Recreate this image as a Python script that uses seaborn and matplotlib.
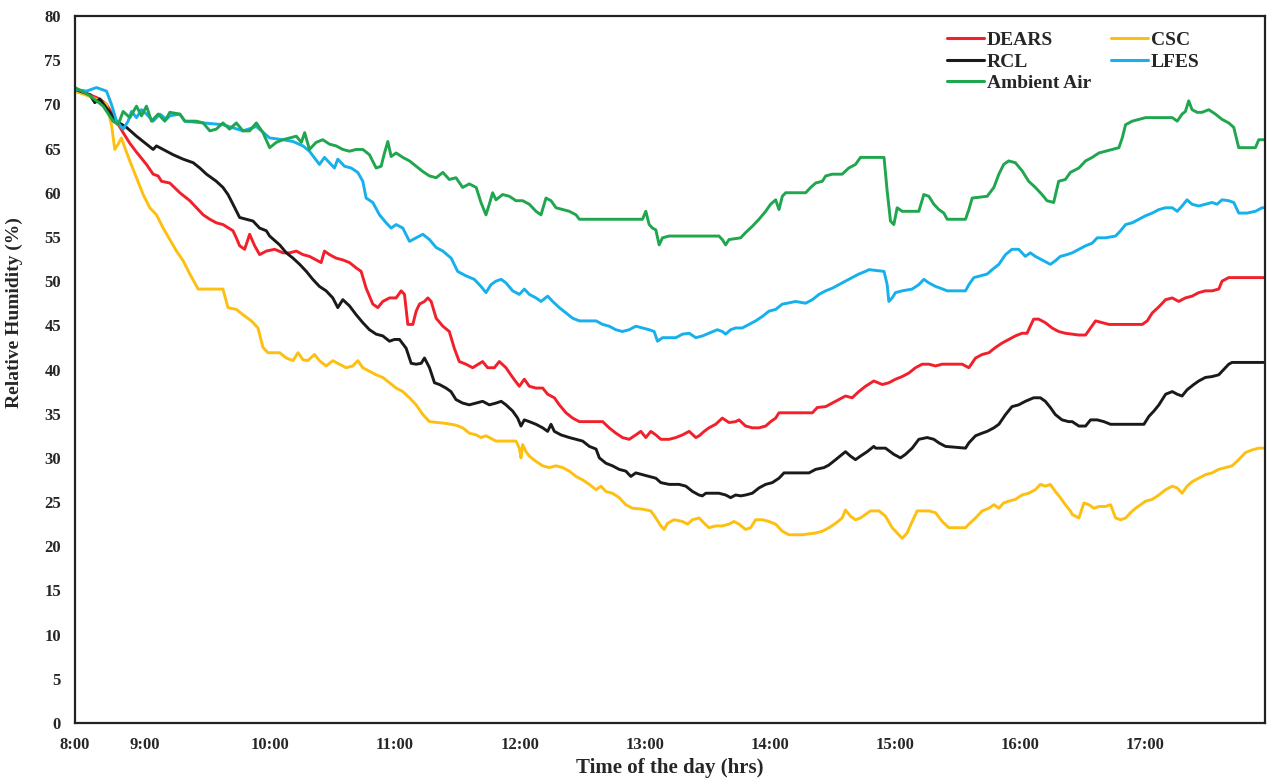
import numpy as np
import pandas as pd
import seaborn as sns
import matplotlib
matplotlib.use("Agg")
import matplotlib.pyplot as plt
from matplotlib.lines import Line2D

# Relative humidity readings (minute of the day after 8:00, RH %)
dears = [
    (26.5, 71.5), (33.6, 71.1), (38.4, 70.6), (41.6, 70.0), (46.4, 68.1), (49.6, 66.8), (52.8, 65.6),
    (56.0, 64.6), (60.8, 63.2), (64.0, 62.1), (66.4, 61.9), (68.0, 61.3), (72.0, 61.1), (76.8, 60.0),
    (81.6, 59.1), (88.0, 57.5), (91.2, 57.0), (94.3, 56.6), (97.5, 56.4), (102.3, 55.7), (103.9, 54.9),
    (105.5, 54.0), (107.9, 53.6), (110.3, 55.3), (112.7, 54.0), (115.1, 53.0), (118.3, 53.4), (122.3, 53.6),
    (126.3, 53.2), (129.5, 53.2), (132.7, 53.4), (135.9, 53.0), (139.0, 52.8), (142.2, 52.4), (144.6, 52.1),
    (146.2, 53.4), (148.6, 53.0), (151.8, 52.6), (155.0, 52.4), (158.2, 52.1), (161.4, 51.5), (163.8, 51.1),
    (166.2, 49.2), (169.4, 47.4), (171.8, 47.0), (174.2, 47.7), (177.4, 48.1), (180.6, 48.1), (183.0, 48.9),
    (184.6, 48.5), (186.2, 45.1), (188.6, 45.1), (190.2, 46.6), (191.8, 47.4), (194.2, 47.7), (195.8, 48.1),
    (197.4, 47.7), (199.8, 45.8), (203.0, 44.9), (206.1, 44.3), (208.5, 42.4), (210.9, 40.9), (214.1, 40.6),
    (217.3, 40.2), (222.1, 40.9), (224.5, 40.2), (227.7, 40.2), (230.1, 40.9), (233.3, 40.2), (236.5, 39.1),
    (239.7, 38.1), (242.1, 38.9), (244.5, 38.1), (247.7, 37.9), (250.9, 37.9), (253.3, 37.2), (256.5, 36.8),
    (258.9, 36.0), (262.1, 35.1), (265.3, 34.5), (268.5, 34.1), (279.7, 34.1), (282.8, 33.4), (286.0, 32.8),
    (289.2, 32.3), (292.4, 32.1), (295.6, 32.6), (298.0, 33.0), (300.4, 32.3), (302.8, 33.0), (305.2, 32.6),
    (307.6, 32.1), (311.6, 32.1), (314.8, 32.3), (318.0, 32.6), (321.2, 33.0), (324.4, 32.3), (326.0, 32.5),
    (328.4, 33.0), (330.7, 33.4), (333.9, 33.8), (337.1, 34.5), (340.3, 34.0), (343.5, 34.1), (345.1, 34.3),
    (348.3, 33.6), (351.5, 33.4), (354.7, 33.4), (357.9, 33.6), (360.3, 34.1), (362.7, 34.5), (364.3, 35.1),
    (380.3, 35.1), (382.7, 35.7), (386.7, 35.8), (389.9, 36.2), (393.0, 36.6), (396.2, 37.0), (399.4, 36.8),
    (402.6, 37.5), (405.8, 38.1), (409.8, 38.7), (413.9, 38.3), (417.0, 38.5), (420.2, 38.9), (423.4, 39.2),
    (426.6, 39.6), (429.8, 40.2), (433.0, 40.6), (436.2, 40.6), (439.4, 40.4), (442.6, 40.6), (452.2, 40.6),
    (455.4, 40.2), (458.6, 41.3), (461.8, 41.7), (465.0, 41.9), (468.2, 42.5), (471.4, 43.0), (474.5, 43.4),
    (477.7, 43.8), (480.9, 44.1), (483.3, 44.1), (484.9, 44.9), (486.5, 45.7), (488.9, 45.7), (492.1, 45.3),
    (495.3, 44.7), (498.5, 44.3), (501.7, 44.1), (508.2, 43.9), (511.4, 43.9), (513.8, 44.7), (516.2, 45.5),
    (519.4, 45.3), (522.6, 45.1), (538.6, 45.1), (541.0, 45.5), (543.4, 46.4), (546.6, 47.1), (549.8, 47.9),
    (553.0, 48.1), (556.1, 47.7), (559.3, 48.1), (562.5, 48.3), (565.7, 48.7), (568.9, 48.9), (572.1, 48.9),
    (575.3, 49.1), (576.9, 50.0), (580.1, 50.4), (597.5, 50.4),
]

csc = [
    (26.5, 71.5), (33.6, 70.9), (38.4, 70.4), (41.6, 70.0), (44.0, 67.7), (45.6, 64.9), (47.2, 65.5),
    (48.8, 66.2), (50.4, 65.1), (52.8, 63.6), (56.0, 61.7), (59.2, 59.8), (62.4, 58.3), (65.6, 57.5),
    (68.8, 56.0), (72.0, 54.7), (75.2, 53.4), (78.4, 52.3), (81.6, 50.8), (85.6, 49.1), (97.5, 49.1),
    (99.9, 47.0), (103.9, 46.8), (107.1, 46.2), (111.1, 45.5), (114.3, 44.7), (116.7, 42.5), (119.1, 41.9),
    (124.7, 41.9), (127.9, 41.3), (131.1, 41.0), (133.5, 41.9), (135.9, 41.1), (138.2, 41.0), (141.4, 41.7),
    (143.8, 41.0), (147.0, 40.4), (150.2, 41.0), (153.4, 40.6), (156.6, 40.2), (159.8, 40.4), (162.2, 41.0),
    (164.6, 40.2), (167.8, 39.8), (171.0, 39.4), (174.2, 39.1), (177.4, 38.5), (180.6, 37.9), (183.8, 37.5),
    (187.0, 36.8), (190.2, 36.0), (193.4, 34.9), (196.6, 34.1), (204.5, 33.9), (209.3, 33.7), (212.5, 33.4),
    (215.7, 32.8), (219.0, 32.6), (221.3, 32.3), (223.7, 32.5), (228.5, 31.9), (238.1, 31.9), (239.7, 31.1),
    (240.5, 30.0), (241.3, 31.5), (242.9, 30.7), (244.5, 30.2), (247.7, 29.6), (250.9, 29.1), (254.1, 28.9),
    (257.3, 29.1), (260.5, 28.9), (263.7, 28.5), (266.9, 27.9), (270.1, 27.5), (273.3, 27.0), (276.5, 26.4),
    (278.9, 26.8), (281.2, 26.2), (284.4, 26.0), (287.6, 25.5), (290.8, 24.7), (294.0, 24.3), (298.8, 24.2),
    (302.8, 24.0), (305.2, 23.2), (307.6, 22.3), (309.2, 21.9), (310.8, 22.6), (314.0, 23.0), (318.0, 22.8),
    (320.4, 22.5), (322.8, 23.0), (326.0, 23.2), (328.4, 22.6), (330.7, 22.1), (333.9, 22.3), (337.1, 22.3),
    (340.3, 22.5), (342.7, 22.8), (345.1, 22.5), (348.3, 21.9), (350.7, 22.1), (353.1, 23.0), (356.3, 23.0),
    (359.5, 22.8), (362.7, 22.5), (365.9, 21.7), (369.1, 21.3), (375.5, 21.3), (381.9, 21.5), (385.1, 21.7),
    (388.3, 22.1), (391.5, 22.6), (394.6, 23.2), (396.2, 24.1), (398.6, 23.4), (401.0, 23.0), (403.4, 23.2),
    (405.8, 23.6), (408.2, 24.0), (412.3, 24.0), (415.4, 23.4), (418.6, 22.1), (421.8, 21.3), (423.4, 20.9),
    (425.8, 21.5), (428.2, 22.8), (430.6, 24.0), (436.2, 24.0), (439.4, 23.8), (442.6, 22.8), (445.8, 22.1),
    (453.8, 22.1), (455.4, 22.5), (458.6, 23.2), (461.8, 24.0), (465.0, 24.3), (467.4, 24.7), (469.8, 24.3),
    (472.1, 24.9), (474.5, 25.1), (477.7, 25.3), (480.9, 25.8), (484.1, 26.0), (487.3, 26.4), (489.7, 27.0),
    (492.1, 26.8), (494.5, 27.0), (496.9, 26.2), (499.3, 25.5), (501.7, 24.7), (504.1, 24.0), (505.0, 23.6),
    (508.2, 23.2), (510.6, 24.9), (513.0, 24.7), (515.4, 24.3), (517.8, 24.5), (521.0, 24.5), (523.4, 24.7),
    (525.8, 23.2), (528.2, 23.0), (530.6, 23.2), (533.0, 23.8), (535.4, 24.3), (537.8, 24.7), (540.2, 25.1),
    (543.4, 25.3), (546.6, 25.8), (549.8, 26.4), (553.0, 26.8), (555.4, 26.6), (557.7, 26.0), (560.1, 26.8),
    (562.5, 27.3), (565.7, 27.7), (568.9, 28.1), (572.1, 28.3), (575.3, 28.7), (578.5, 28.9), (581.7, 29.1),
    (584.9, 29.8), (588.1, 30.6), (591.3, 30.9), (594.5, 31.1), (597.5, 31.1),
]

rcl = [
    (26.5, 71.7), (33.6, 71.1), (36.0, 70.2), (38.4, 70.6), (41.6, 69.6), (46.4, 68.1), (51.2, 67.4),
    (56.0, 66.4), (60.8, 65.5), (64.0, 64.9), (65.6, 65.3), (68.8, 64.9), (73.6, 64.3), (78.4, 63.8),
    (83.2, 63.4), (86.4, 62.8), (89.6, 62.1), (94.3, 61.3), (97.5, 60.6), (99.9, 59.8), (102.3, 58.7),
    (105.5, 57.2), (108.7, 57.0), (111.9, 56.8), (115.1, 56.0), (118.3, 55.7), (119.9, 55.1), (124.7, 54.1),
    (127.9, 53.2), (131.1, 52.6), (134.3, 51.9), (137.5, 51.1), (140.6, 50.2), (143.8, 49.4), (147.0, 48.9),
    (150.2, 48.1), (152.6, 47.0), (155.0, 47.9), (158.2, 47.2), (161.4, 46.2), (164.6, 45.3), (167.8, 44.5),
    (171.0, 44.0), (174.2, 43.8), (177.4, 43.2), (179.8, 43.4), (182.2, 43.4), (185.4, 42.4), (187.8, 40.7),
    (190.2, 40.6), (192.6, 40.7), (194.2, 41.3), (196.6, 40.2), (199.0, 38.5), (201.4, 38.3), (204.5, 37.9),
    (206.9, 37.5), (209.3, 36.6), (212.5, 36.2), (215.7, 36.0), (219.0, 36.2), (222.1, 36.4), (225.3, 36.0),
    (228.5, 36.2), (231.0, 36.4), (233.3, 36.0), (236.5, 35.3), (238.9, 34.5), (240.5, 33.6), (242.1, 34.3),
    (244.5, 34.1), (247.7, 33.8), (250.9, 33.4), (253.3, 33.0), (254.9, 33.8), (256.5, 33.0), (259.7, 32.6),
    (263.7, 32.3), (266.9, 32.1), (270.1, 31.9), (273.3, 31.3), (276.5, 31.0), (278.1, 30.0), (281.2, 29.4),
    (284.4, 29.1), (287.6, 28.7), (290.8, 28.5), (293.2, 27.9), (295.6, 28.3), (298.8, 28.1), (302.0, 27.9),
    (305.2, 27.7), (307.6, 27.2), (311.6, 27.0), (316.4, 27.0), (319.6, 26.8), (322.8, 26.2), (325.9, 25.8),
    (327.5, 25.7), (329.2, 26.0), (335.5, 26.0), (338.7, 25.8), (341.1, 25.5), (343.5, 25.8), (345.9, 25.7),
    (348.3, 25.8), (351.5, 26.0), (354.7, 26.6), (357.9, 27.0), (361.1, 27.2), (364.3, 27.7), (366.7, 28.3),
    (378.7, 28.3), (381.9, 28.7), (385.9, 28.9), (388.3, 29.2), (391.5, 29.8), (394.6, 30.4), (396.2, 30.7),
    (398.6, 30.2), (401.0, 29.8), (403.4, 30.2), (406.6, 30.7), (409.8, 31.3), (410.7, 31.1), (415.4, 31.1),
    (419.4, 30.4), (422.6, 30.0), (425.0, 30.4), (428.2, 31.1), (431.4, 32.1), (435.4, 32.3), (438.6, 32.1),
    (441.0, 31.7), (444.2, 31.3), (453.8, 31.1), (455.4, 31.7), (458.6, 32.5), (461.8, 32.8), (464.2, 33.0),
    (467.4, 33.4), (469.8, 33.8), (473.0, 34.9), (476.1, 35.8), (479.3, 36.0), (482.5, 36.4), (486.5, 36.8),
    (489.7, 36.8), (492.1, 36.4), (494.5, 35.7), (496.9, 34.9), (500.1, 34.3), (503.3, 34.1), (505.0, 34.1),
    (508.2, 33.6), (511.4, 33.6), (513.8, 34.3), (517.0, 34.3), (520.2, 34.1), (523.4, 33.8), (539.4, 33.8),
    (541.8, 34.7), (544.2, 35.3), (546.6, 36.0), (549.8, 37.2), (553.0, 37.5), (555.4, 37.2), (557.7, 37.0),
    (560.1, 37.7), (563.3, 38.3), (565.7, 38.7), (568.9, 39.1), (572.1, 39.2), (575.3, 39.4), (577.7, 40.0),
    (580.1, 40.6), (581.7, 40.8), (597.5, 40.8),
]

lfes = [
    (26.5, 71.7), (32.0, 71.5), (36.8, 71.9), (41.6, 71.5), (44.0, 70.0), (46.4, 68.1), (49.6, 67.2),
    (52.0, 68.1), (53.6, 69.2), (56.0, 68.5), (58.4, 69.4), (60.8, 68.9), (64.0, 68.1), (67.2, 68.9),
    (70.4, 68.3), (72.0, 68.7), (76.8, 68.9), (79.2, 68.1), (88.0, 67.9), (97.5, 67.7), (107.1, 67.0),
    (113.5, 67.5), (119.9, 66.2), (126.3, 66.0), (131.1, 65.8), (135.9, 65.3), (139.0, 64.7), (143.8, 63.2),
    (146.2, 64.0), (148.6, 63.4), (151.0, 62.8), (152.6, 63.8), (155.8, 63.0), (159.0, 62.8), (162.2, 62.3),
    (164.6, 61.3), (166.2, 59.4), (169.4, 58.9), (172.6, 57.5), (175.8, 56.6), (178.2, 56.0), (180.6, 56.4),
    (183.8, 56.0), (187.0, 54.5), (190.2, 54.9), (193.4, 55.3), (196.6, 54.7), (199.8, 53.8), (203.0, 53.4),
    (207.0, 52.6), (210.1, 51.1), (214.1, 50.6), (218.1, 50.2), (221.3, 49.4), (223.7, 48.7), (226.1, 49.6),
    (228.5, 50.0), (231.0, 50.2), (233.3, 49.8), (236.5, 48.9), (239.7, 48.5), (242.1, 49.1), (244.5, 48.5),
    (247.7, 48.1), (250.1, 47.7), (253.3, 48.3), (255.7, 47.7), (258.9, 47.0), (262.1, 46.4), (265.3, 45.8),
    (268.5, 45.5), (276.5, 45.5), (279.7, 45.1), (282.8, 44.9), (286.0, 44.5), (289.2, 44.3), (292.4, 44.5),
    (295.6, 44.9), (298.8, 44.7), (302.0, 44.5), (304.4, 44.3), (306.0, 43.2), (308.4, 43.6), (314.8, 43.6),
    (318.0, 44.0), (321.2, 44.1), (324.4, 43.6), (327.6, 43.8), (330.7, 44.1), (334.7, 44.5), (337.1, 44.3),
    (338.7, 44.0), (341.1, 44.5), (343.5, 44.7), (346.7, 44.7), (349.9, 45.1), (353.1, 45.5), (356.3, 46.0),
    (359.5, 46.6), (362.7, 46.8), (365.9, 47.4), (368.3, 47.5), (372.3, 47.7), (377.1, 47.5), (380.3, 47.9),
    (383.5, 48.5), (386.7, 48.9), (389.9, 49.2), (393.0, 49.6), (396.2, 50.0), (399.4, 50.4), (402.6, 50.8),
    (405.8, 51.1), (407.5, 51.3), (414.7, 51.1), (416.2, 49.6), (417.0, 47.7), (418.6, 48.1), (420.2, 48.7),
    (423.4, 48.9), (428.2, 49.1), (431.4, 49.6), (433.8, 50.2), (436.2, 49.8), (439.4, 49.4), (441.8, 49.2),
    (445.0, 48.9), (453.8, 48.9), (455.4, 49.6), (457.8, 50.4), (461.0, 50.6), (464.2, 50.8), (466.6, 51.3),
    (469.8, 51.9), (473.0, 53.0), (476.1, 53.6), (479.3, 53.6), (482.5, 52.8), (484.9, 53.2), (487.3, 52.8),
    (490.5, 52.4), (494.5, 51.9), (496.9, 52.3), (499.3, 52.8), (502.5, 53.0), (505.0, 53.2), (508.2, 53.6),
    (511.4, 54.0), (514.6, 54.3), (517.0, 54.9), (521.0, 54.9), (525.8, 55.1), (528.2, 55.7), (530.6, 56.4),
    (533.8, 56.6), (537.0, 57.0), (540.2, 57.4), (543.4, 57.7), (546.6, 58.1), (549.8, 58.3), (553.0, 58.3),
    (555.4, 57.9), (557.7, 58.5), (560.1, 59.2), (562.5, 58.7), (565.7, 58.5), (568.9, 58.7), (572.1, 58.9),
    (574.5, 58.7), (576.9, 59.2), (580.1, 59.1), (582.5, 58.9), (584.9, 57.7), (588.9, 57.7), (592.9, 57.9),
    (596.1, 58.3), (597.5, 58.3),
]

ambient = [
    (26.5, 71.9), (33.6, 71.0), (40.0, 69.8), (44.8, 68.1), (47.2, 67.7), (49.6, 69.2), (52.8, 68.5),
    (56.0, 69.8), (58.4, 68.7), (60.8, 69.8), (63.2, 68.1), (66.4, 68.9), (69.6, 68.1), (72.0, 69.1),
    (76.8, 68.9), (79.2, 68.1), (84.8, 68.1), (88.0, 67.9), (91.2, 67.0), (94.3, 67.2), (97.5, 67.9),
    (100.7, 67.2), (103.9, 67.9), (107.1, 67.0), (110.3, 67.0), (113.5, 67.9), (116.7, 66.8), (119.9, 65.1),
    (123.1, 65.7), (126.3, 66.0), (129.5, 66.2), (132.7, 66.4), (135.1, 65.7), (136.7, 66.8), (139.0, 64.9),
    (142.2, 65.7), (145.4, 66.0), (148.6, 65.5), (151.8, 65.3), (155.0, 64.9), (158.2, 64.7), (161.4, 64.9),
    (164.6, 64.9), (167.8, 64.3), (171.0, 62.8), (173.4, 63.0), (175.0, 64.5), (176.6, 65.8), (178.2, 64.1),
    (180.6, 64.5), (183.8, 64.0), (187.0, 63.6), (190.2, 63.0), (193.4, 62.4), (196.6, 61.9), (199.8, 61.7),
    (203.0, 62.3), (206.1, 61.5), (209.3, 61.7), (212.5, 60.6), (215.7, 61.0), (219.0, 60.6), (221.3, 58.9),
    (223.7, 57.5), (225.3, 58.7), (226.9, 60.0), (228.5, 59.2), (231.7, 59.8), (234.9, 59.6), (238.1, 59.1),
    (241.3, 59.1), (244.5, 58.7), (247.7, 57.9), (250.1, 57.5), (252.5, 59.4), (254.9, 59.1), (257.3, 58.3),
    (260.5, 58.1), (263.7, 57.9), (266.9, 57.5), (268.5, 57.0), (298.8, 57.0), (300.4, 57.9), (302.0, 56.4),
    (303.6, 56.0), (305.2, 55.8), (306.8, 54.1), (308.4, 54.9), (311.6, 55.1), (335.5, 55.1), (337.1, 54.7),
    (338.7, 54.1), (340.3, 54.7), (345.9, 54.9), (348.3, 55.5), (351.5, 56.2), (354.7, 57.0), (357.9, 57.9),
    (360.3, 58.7), (362.7, 59.2), (364.3, 58.1), (365.9, 59.6), (367.5, 60.0), (377.1, 60.0), (379.5, 60.6),
    (381.9, 61.1), (385.1, 61.3), (386.7, 61.9), (389.9, 62.1), (394.6, 62.1), (397.8, 62.8), (401.0, 63.2),
    (403.4, 64.0), (414.7, 64.0), (416.2, 60.2), (417.8, 56.8), (419.4, 56.4), (421.0, 58.3), (423.4, 57.9),
    (431.4, 57.9), (433.8, 59.8), (436.2, 59.6), (438.6, 58.7), (441.0, 58.1), (443.4, 57.7), (445.0, 57.0),
    (453.8, 57.0), (455.4, 58.1), (457.0, 59.4), (464.2, 59.6), (467.4, 60.6), (469.8, 62.1), (472.1, 63.2),
    (474.5, 63.6), (477.7, 63.4), (480.9, 62.5), (484.1, 61.3), (487.3, 60.6), (490.5, 59.8), (492.9, 59.1),
    (496.1, 58.9), (498.5, 61.3), (501.7, 61.5), (504.1, 62.3), (508.2, 62.8), (511.4, 63.6), (514.6, 64.0),
    (517.8, 64.5), (521.0, 64.7), (524.2, 64.9), (527.4, 65.1), (529.0, 66.2), (530.6, 67.7), (533.8, 68.1),
    (537.0, 68.3), (540.2, 68.5), (553.0, 68.5), (555.4, 68.1), (557.7, 68.9), (559.3, 69.2), (560.9, 70.4),
    (562.5, 69.4), (564.9, 69.1), (567.3, 69.1), (570.5, 69.4), (573.7, 68.9), (576.9, 68.3), (580.1, 67.9),
    (582.5, 67.4), (584.9, 65.1), (592.9, 65.1), (594.5, 66.0), (597.5, 66.0),
]

series_names = ["DEARS", "CSC", "RCL", "LFES", "Ambient Air"]
series_colors = ["#F2202B", "#FDC010", "#1A1A1A", "#16B0EC", "#1FA64E"]

# Hour labels along the time axis (first label sits at the start of the record)
hour_ticks = [26.5, 60, 120, 180, 240, 300, 360, 420, 480, 540]
hour_labels = ["8:00", "9:00", "10:00", "11:00", "12:00", "13:00", "14:00", "15:00", "16:00", "17:00"]

records = []
for name, pts in zip(series_names, [dears, csc, rcl, lfes, ambient]):
    for minute, rh in pts:
        records.append((name, minute, rh))
df = pd.DataFrame(records, columns=["series", "minute", "rh"])

sns.set_style("white")
plt.rcParams["font.family"] = ["Liberation Serif", "DejaVu Serif"]
plt.rcParams["font.weight"] = "bold"

fig = plt.figure(figsize=(12.72, 7.8), dpi=100)
ax = fig.add_axes([75 / 1272, 1 - 723 / 780, 1190 / 1272, 707 / 780])

sns.lineplot(
    data=df, x="minute", y="rh", hue="series",
    hue_order=series_names, palette=dict(zip(series_names, series_colors)),
    estimator=None, sort=False, linewidth=2.1, legend=False, ax=ax,
)

ax.set_xlim(26.5, 597.5)
ax.set_ylim(0, 80)
ax.set_yticks(np.arange(0, 81, 5))
ax.set_xticks(hour_ticks)
ax.set_xticklabels(hour_labels)
ax.set_xticks(np.arange(36.5, 597, 10), minor=True)

ax.tick_params(axis="x", which="major", length=0, pad=10, labelsize=12)
ax.tick_params(axis="x", which="minor", direction="in", length=4, width=1.2, color="#222222")
ax.tick_params(axis="y", which="major", direction="in", length=4, width=1.2, pad=10,
               labelsize=12, color="#222222")
for lbl in ax.get_xticklabels() + ax.get_yticklabels():
    lbl.set_fontweight("bold")

for side in ["left", "right", "top", "bottom"]:
    ax.spines[side].set_visible(True)
    ax.spines[side].set_color("#222222")
    ax.spines[side].set_linewidth(1.6)

ax.set_xlabel("Time of the day (hrs)", fontsize=15, fontweight="bold", labelpad=4)
ax.set_ylabel("Relative Humidity (%)", fontsize=14, fontweight="bold")
# label anchor is the right-hand side of the rotated text
ax.yaxis.set_label_coords(-0.0435, 0.58)

# legend: two columns, filled column by column
color_of = dict(zip(series_names, series_colors))
leg_order = ["DEARS", "RCL", "Ambient Air", "CSC", "LFES"]
handles = [Line2D([0], [0], color=color_of[n], lw=2.2) for n in leg_order]
ax.legend(handles, leg_order, ncol=2, loc="upper left", bbox_to_anchor=(0.733, 0.978),
          frameon=False, prop={"family": ["Liberation Serif"], "weight": "bold", "size": 14},
          handlelength=1.9, handletextpad=0.15, columnspacing=1.0, labelspacing=0.2,
          borderpad=0, borderaxespad=0)

fig.savefig("out.png", dpi=100, facecolor="white")
